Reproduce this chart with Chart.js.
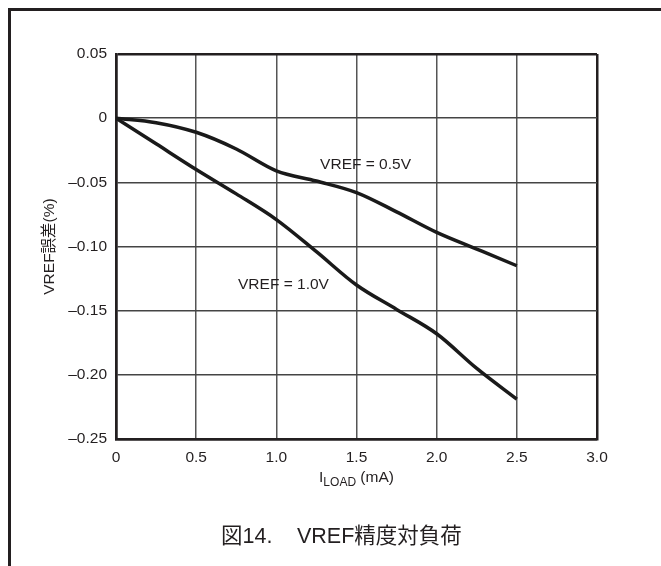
<!DOCTYPE html>
<html>
<head>
<meta charset="utf-8">
<script src="https://cdn.jsdelivr.net/npm/chart.js@4.4.1/dist/chart.umd.min.js"></script>
<style>
  html, body { margin: 0; padding: 0; background: #fff; }
  #wrap { width: 661px; height: 566px; position: relative; }
</style>
</head>
<body>
<div id="wrap"><canvas id="c" width="661" height="566"></canvas></div>
<script>
// Load current (mA)
const iLoad = [0, 0.25, 0.5, 0.75, 1.0, 1.25, 1.5, 1.75, 2.0, 2.25, 2.5];
// VREF error (%) for each reference voltage
const errVref05 = [0, -0.0035, -0.011, -0.024, -0.041, -0.049, -0.058, -0.073, -0.089, -0.102, -0.115];
const errVref10 = [0, -0.020, -0.040, -0.059, -0.079, -0.104, -0.130, -0.149, -0.168, -0.195, -0.219];
const seriesNames = ['VREF = 0.5V', 'VREF = 1.0V'];
// Axis tick labels
const xTickLabels = ['0', '0.5', '1.0', '1.5', '2.0', '2.5', '3.0'];
const yTickLabels = ['0.05', '0', '\u20130.05', '\u20130.10', '\u20130.15', '\u20130.20', '\u20130.25'];
const yTitle = 'VREF誤差(%)';
const figNumber = '図14.';
const figTitle = 'VREF精度対負荷';

const FONT = '"Liberation Sans", "Noto Sans CJK JP", sans-serif';
const INK = '#231f20';

const toPoints = ys => iLoad.map((x, i) => ({ x: x, y: ys[i] }));

const decor = {
  id: 'decor',
  beforeDraw(chart) {
    const ctx = chart.ctx;
    ctx.save();
    ctx.fillStyle = '#fff';
    ctx.fillRect(0, 0, chart.width, chart.height);
    // page frame: top and left rules
    ctx.fillStyle = INK;
    ctx.fillRect(8, 8, chart.width - 8, 3);
    ctx.fillRect(8, 8, 3, chart.height - 8);
    ctx.restore();
  },
  afterDraw(chart) {
    const ctx = chart.ctx;
    const xs = chart.scales.x, ys = chart.scales.y;
    const a = chart.chartArea;
    ctx.save();
    ctx.fillStyle = INK;
    // curve labels
    ctx.font = '15.5px ' + FONT;
    ctx.textBaseline = 'middle';
    ctx.textAlign = 'left';
    ctx.fillText(seriesNames[0], xs.getPixelForValue(1.273), ys.getPixelForValue(-0.036));
    ctx.fillText(seriesNames[1], xs.getPixelForValue(0.761), ys.getPixelForValue(-0.130));
    // y-axis title
    ctx.save();
    ctx.translate(50, (a.top + a.bottom) / 2);
    ctx.rotate(-Math.PI / 2);
    ctx.textAlign = 'center';
    ctx.font = '15.5px ' + FONT;
    ctx.fillText(yTitle, 0, 0);
    ctx.restore();
    // x-axis title with subscript
    ctx.textBaseline = 'alphabetic';
    const parts = [['I', '15.5px', 0], ['LOAD', '12px', 4], [' (mA)', '15.5px', 0]];
    let w = 0;
    parts.forEach(p => { ctx.font = p[1] + ' ' + FONT; w += ctx.measureText(p[0]).width; });
    let x = (a.left + a.right) / 2 - w / 2;
    parts.forEach(p => {
      ctx.font = p[1] + ' ' + FONT;
      ctx.fillText(p[0], x, 482 + p[2]);
      x += ctx.measureText(p[0]).width;
    });
    // figure caption: number, wide gap, then title
    ctx.font = '21.5px ' + FONT;
    ctx.textAlign = 'left';
    ctx.textBaseline = 'middle';
    ctx.fillText(figNumber, 221, 537);
    ctx.fillText(figTitle, 297, 537);
    ctx.restore();
  }
};

new Chart(document.getElementById('c'), {
  type: 'line',
  data: {
    datasets: [
      { label: seriesNames[0], data: toPoints(errVref05) },
      { label: seriesNames[1], data: toPoints(errVref10) }
    ]
  },
  options: {
    responsive: false,
    animation: false,
    devicePixelRatio: 1,
    layout: { padding: { left: 0, right: 64, top: 54, bottom: 0 } },
    elements: {
      line: { borderColor: '#1a1a1a', borderWidth: 3.5, cubicInterpolationMode: 'monotone', fill: false },
      point: { radius: 0, hoverRadius: 0 }
    },
    plugins: { legend: { display: false }, tooltip: { enabled: false }, title: { display: false } },
    scales: {
      x: {
        type: 'linear', min: 0, max: 3.0,
        afterFit(s) { s.height = 127; },
        ticks: {
          stepSize: 0.5, padding: 9, color: INK,
          font: { family: FONT, size: 15.5 },
          callback: (v, i) => xTickLabels[i]
        },
        grid: {
          drawTicks: false,
          color: c => (c.index === 0 || c.index === xTickLabels.length - 1) ? INK : '#555',
          lineWidth: c => (c.index === 0 || c.index === xTickLabels.length - 1) ? 2.5 : 1.5
        },
        border: { display: true, color: INK, width: 2.5 }
      },
      y: {
        type: 'linear', min: -0.25, max: 0.05,
        afterFit(s) { s.width = 116; },
        ticks: {
          stepSize: 0.05, padding: 9, color: INK,
          font: { family: FONT, size: 15.5 },
          callback: (v, i, all) => yTickLabels[all.length - 1 - i]
        },
        grid: {
          drawTicks: false,
          color: c => (c.index === 0 || c.index === yTickLabels.length - 1) ? INK : '#444',
          lineWidth: c => (c.index === 0 || c.index === yTickLabels.length - 1) ? 2.5 : 1.5
        },
        border: { display: true, color: INK, width: 2.5 }
      }
    }
  },
  plugins: [decor]
});
</script>
</body>
</html>
